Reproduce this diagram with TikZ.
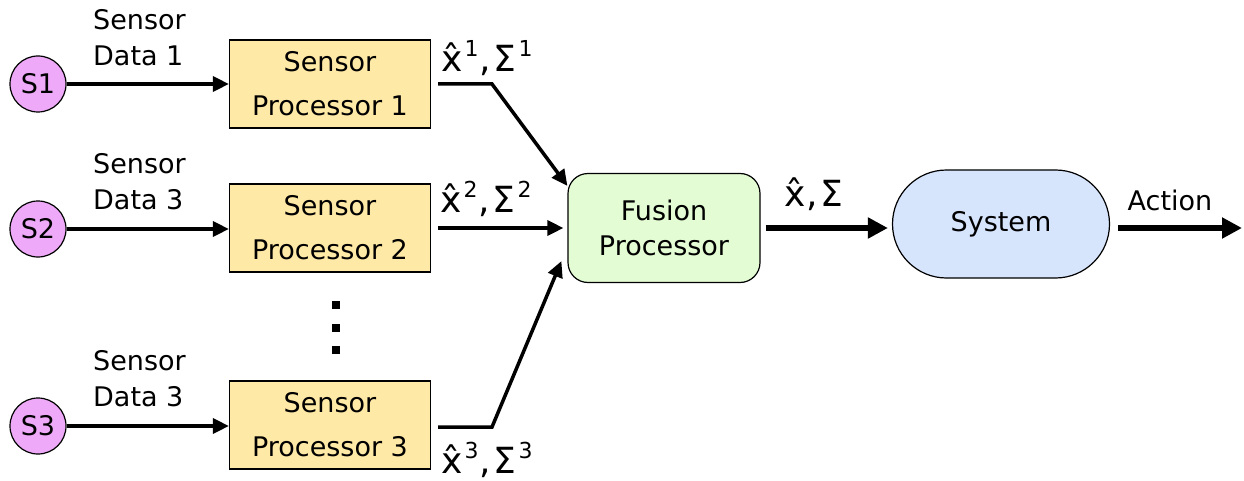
\documentclass[tikz,border=0pt]{standalone}
\usepackage{fontspec}
\setmainfont{DejaVu Sans}
\usetikzlibrary{arrows.meta}
\definecolor{sensorfill}{HTML}{EEAAF8}
\definecolor{procfill}{HTML}{FFE9A6}
\definecolor{fusionfill}{HTML}{E3FCD4}
\definecolor{systemfill}{HTML}{D6E4FC}
% estimate label: x-hat and Sigma with an index
\newcommand\estidx[1]{\hspace{2pt}\raisebox{15pt}{\fontsize{22}{22}\selectfont #1}}
\newcommand\estlabel[1]{\^{x}\estidx{#1}\hspace{1pt},\hspace{3pt}Σ\estidx{#1}}
\begin{document}
\begin{tikzpicture}[x=1pt,y=-1pt,
  font=\fontsize{27}{30}\selectfont,
  src/.style={circle,draw,line width=1.2pt,fill=sensorfill,minimum size=56pt,inner sep=0pt},
  proc/.style={rectangle,draw,line width=1.2pt,fill=procfill,minimum width=201pt,
    minimum height=88pt,align=center,font=\fontsize{27}{44}\selectfont},
  fusionbox/.style={rectangle,rounded corners=20pt,draw,line width=1.2pt,fill=fusionfill,
    minimum width=192pt,minimum height=109pt,align=center,font=\fontsize{27}{35}\selectfont},
  systembox/.style={rectangle,rounded corners=54pt,draw,line width=1.2pt,fill=systemfill,
    minimum width=217pt,minimum height=108pt},
  datalabel/.style={align=left,anchor=west,font=\fontsize{27}{36}\selectfont,inner sep=0pt},
  estlbl/.style={font=\fontsize{36}{36}\selectfont,inner sep=0pt,anchor=base west},
  arr/.style={line width=3.5pt,-{Triangle[length=16pt,width=15pt]}},
  thickarr/.style={line width=6pt,-{Triangle[length=20pt,width=20pt]}},
  dot/.style={fill,minimum size=8pt,inner sep=0pt}
]
\useasboundingbox (0,0) rectangle (1244,481);

% sensors
\node[src] (s1) at (38,84) {S1};
\node[src] (s2) at (38,229) {S2};
\node[src] (s3) at (38,426) {S3};

% sensor processors
\node[proc] (sp1) at (330,84) {Sensor\\Processor 1};
\node[proc] (sp2) at (330,228) {Sensor\\Processor 2};
\node[proc] (sp3) at (330,425) {Sensor\\Processor 3};

% fusion and system
\node[fusionbox] (fusion) at (664,228) {Fusion\\Processor};
\node[systembox] (system) at (1001,224) {System};

% raw data links
\draw[arr] (s1) -- (sp1.west |- s1);
\draw[arr] (s2) -- (sp2.west |- s2);
\draw[arr] (s3) -- (sp3.west |- s3);
\node[datalabel] (d1) at (93,38) {Sensor\\Data 1};
\node[datalabel] (d2) at (93,182) {Sensor\\Data 3};
\node[datalabel] (d3) at (93,379) {Sensor\\Data 3};

% estimates into the fusion processor
\coordinate (b1) at (492,84);
\coordinate (b3) at (492,427);
\draw[arr] ([xshift=7pt]sp1.east) -- (b1) -- ([yshift=-13pt]fusion.north west);
\draw[arr] ([xshift=7pt]sp2.east) -- ([xshift=-4pt]fusion.west);
\draw[arr] ([xshift=7pt,yshift=-2pt]sp3.east) -- (b3) -- ([xshift=-6pt,yshift=22pt]fusion.south west);
\node[estlbl] (e1) at (441,72) {\estlabel{1}};
\node[estlbl] (e2) at (440,212) {\estlabel{2}};
\node[estlbl] (e3) at (441,473) {\estlabel{3}};

% fused estimate and action
\coordinate (act) at (1242,228);
\draw[thickarr] ([xshift=5pt]fusion.east) -- ([xshift=-4pt]system.west |- fusion);
\draw[thickarr] ([xshift=8pt]system.east |- fusion) -- (act);
\node[estlbl] (ef) at (784,207) {\^{x}\hspace{1pt},\hspace{3pt}Σ};
\node (action) at (1170,200) {Action};

% ellipsis between processors
\node[dot] (dt1) at (336,305) {};
\node[dot] (dt2) at (336,328) {};
\node[dot] (dt3) at (336,350) {};
\end{tikzpicture}
\end{document}
